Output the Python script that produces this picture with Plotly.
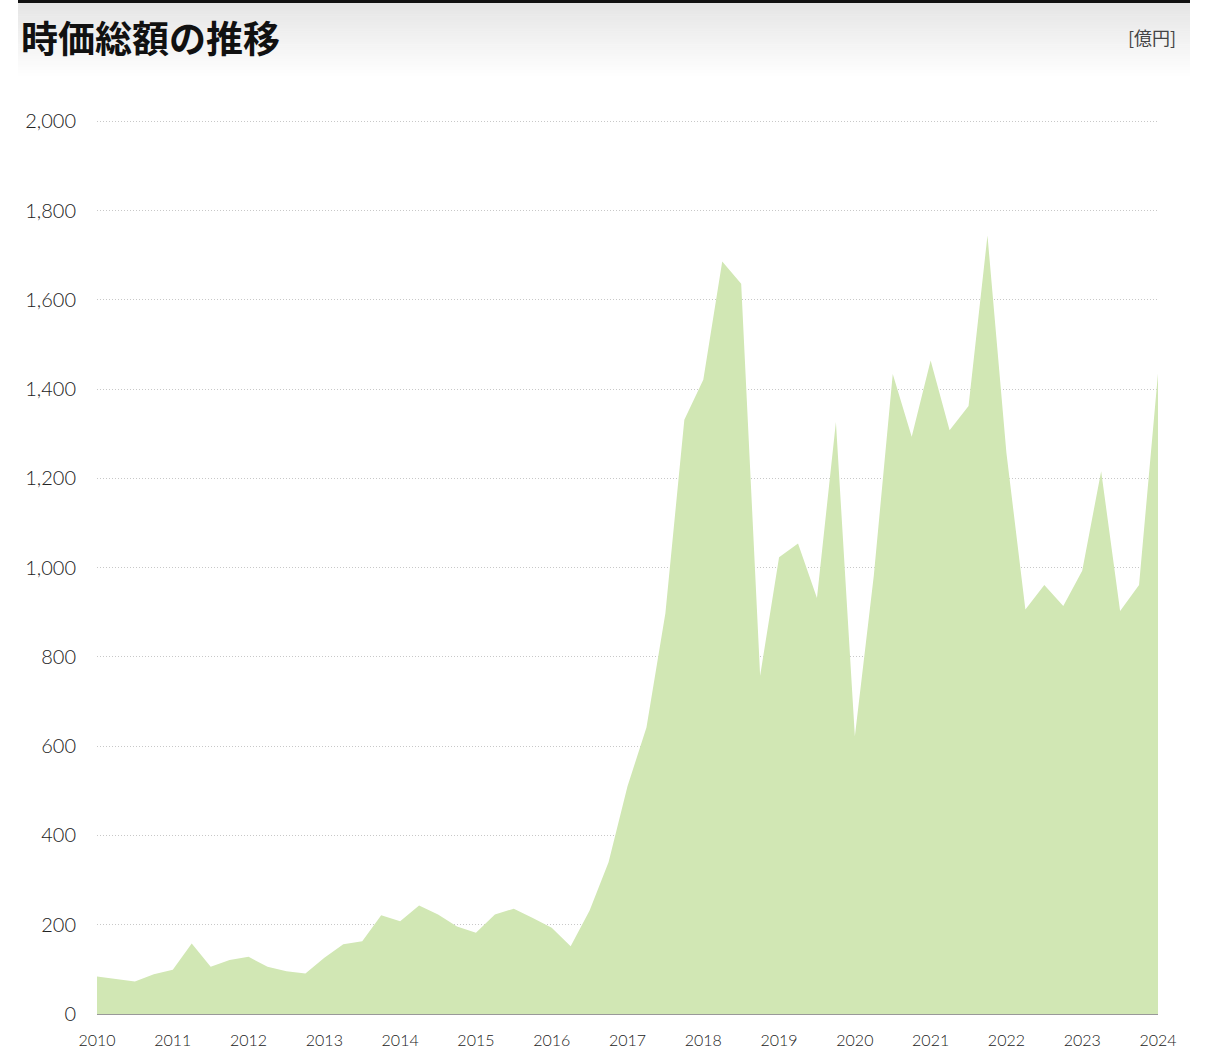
import plotly.graph_objects as go

# Quarterly market capitalisation, 2010 Q1 .. 2024 Q1 (unit: 億円)
quarters = [2010 + 0.25 * i for i in range(57)]
market_cap = [
    84, 78, 73, 89, 99, 158, 106, 121, 128, 106, 96, 91,
    126, 156, 163, 221, 208, 243, 223, 196, 182, 223, 236, 215,
    193, 152, 232, 340, 510, 642, 898, 1331, 1421, 1686, 1636, 758,
    1023, 1054, 932, 1326, 622, 982, 1434, 1293, 1464, 1308, 1362, 1744,
    1257, 906, 961, 914, 993, 1216, 903, 961, 1435,
]
year_ticks = list(range(2010, 2025))
year_labels = [str(y) for y in year_ticks]
y_ticks = [0, 200, 400, 600, 800, 1000, 1200, 1400, 1600, 1800, 2000]
y_labels = ["0", "200", "400", "600", "800", "1,000", "1,200", "1,400", "1,600", "1,800", "2,000"]

title_text = "時価総額の推移"
unit_text = "[億円]"

W, H = 1206, 1056
PL, PR, PT, PB = 97, 1158, 119, 1014   # plot area in pixels
Y_MAX = 2005


def px_x(x):
    return (x - PL) / (PR - PL)


def px_y(y):
    return (PB - y) / (PB - PT)


fig = go.Figure()

fig.add_trace(go.Scatter(
    x=quarters, y=market_cap,
    mode="lines",
    line=dict(width=0, color="#d1e7b4"),
    fill="tozeroy",
    fillcolor="#d1e7b4",
    hoverinfo="x+y",
    showlegend=False,
))

shapes = []
# header band: vertical gradient from light grey to white
n_strips = 40
band_top, band_bottom = 3, 78
for k in range(n_strips):
    t = k / (n_strips - 1)
    g = int(round(229 + (255 - 229) * t))
    y0 = band_top + (band_bottom - band_top) * k / n_strips
    y1 = band_top + (band_bottom - band_top) * (k + 1) / n_strips + 0.6
    shapes.append(dict(
        type="rect", xref="paper", yref="paper",
        x0=px_x(18), x1=px_x(1190), y0=px_y(y1), y1=px_y(y0),
        fillcolor=f"rgb({g},{g},{g})", line=dict(width=0), layer="below",
    ))
# black rule across the top of the header
shapes.append(dict(
    type="rect", xref="paper", yref="paper",
    x0=px_x(18), x1=px_x(1190), y0=px_y(3), y1=px_y(0),
    fillcolor="#111111", line=dict(width=0), layer="below",
))

fig.update_layout(
    width=W, height=H,
    margin=dict(l=PL, r=W - PR, t=PT, b=H - PB),
    paper_bgcolor="white", plot_bgcolor="white",
    shapes=shapes,
    font=dict(family="Lato, 'Noto Sans', sans-serif", color="#222222"),
    annotations=[
        dict(text=f"<b>{title_text}</b>", xref="paper", yref="paper",
             x=px_x(19), y=px_y(37),
             xanchor="left", yanchor="middle", showarrow=False,
             font=dict(family="Noto Sans CJK JP", size=37, color="#111111")),
        dict(text=unit_text, xref="paper", yref="paper",
             x=px_x(1178), y=px_y(37),
             xanchor="right", yanchor="middle", showarrow=False,
             font=dict(family="Noto Sans CJK JP", size=18, color="#444444")),
    ],
    xaxis=dict(
        range=[2010, 2024], tickmode="array",
        tickvals=year_ticks, ticktext=year_labels,
        showgrid=False, zeroline=False, automargin=False,
        showline=False, ticks="outside", ticklen=12, tickcolor="rgba(0,0,0,0)",
        tickfont=dict(size=16, color="#222222", weight=300),
        fixedrange=True,
    ),
    yaxis=dict(
        range=[0, Y_MAX], tickmode="array",
        tickvals=y_ticks, ticktext=y_labels, automargin=False,
        showgrid=True, gridcolor="#c8c8c8", griddash="1px,2px", gridwidth=1,
        zeroline=True, zerolinecolor="#999999", zerolinewidth=2,
        showline=False, ticks="outside", ticklen=16, tickcolor="rgba(0,0,0,0)",
        tickfont=dict(size=20, color="#222222", weight=300),
        fixedrange=True,
    ),
)

fig.write_html("out.html")
